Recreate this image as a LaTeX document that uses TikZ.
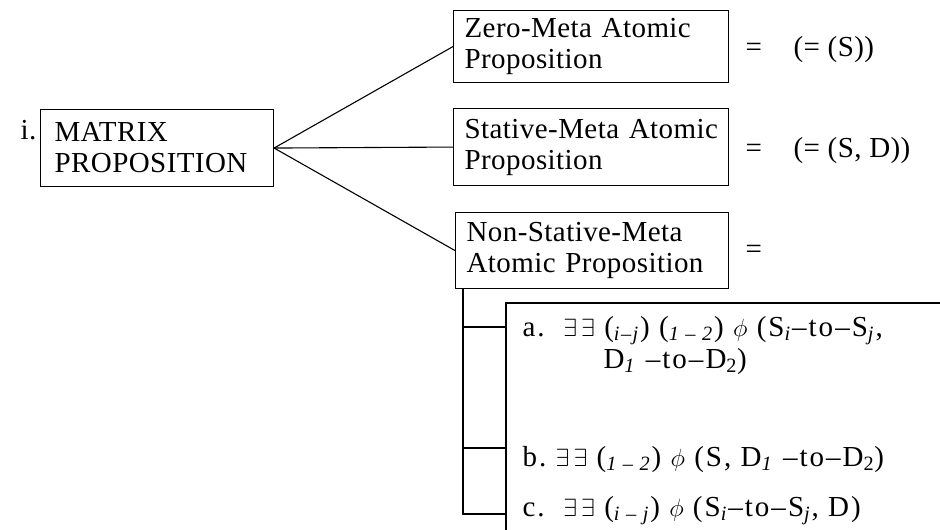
\documentclass[tikz,border=0pt]{standalone}
\usepackage{fontspec}
\setmainfont{Liberation Serif}[LetterSpace=1.5]
\usepackage{tikz}
\newcommand{\sbs}[1]{\textsubscript{\textit{#1}}}

\begin{document}
\begin{tikzpicture}[x=1pt,y=-1pt,line width=1.1pt,
  every node/.style={font=\fontsize{29}{31}\selectfont, inner sep=0pt},
  propbox/.style={draw, align=left, anchor=north west, inner xsep=11pt},
  rel/.style={anchor=base west},
  caseline/.style={anchor=base west, font=\fontsize{29}{31}\selectfont\addfontfeature{LetterSpace=7}}]
\useasboundingbox (0,0) rectangle (940,530);

\node [anchor=base west] (num) at (20,139) {i.};
\node [propbox, inner xsep=14pt, text width=205pt, minimum height=77pt] (matrix) at (40,109) {MATRIX\\PROPOSITION};

\node [propbox, text width=253pt, minimum height=72pt] (zero) at (453,10) {Zero-Meta Atomic\\Proposition};
\node [propbox, text width=253pt, minimum height=77pt] (stative) at (453,108) {Stative-Meta Atomic\\Proposition};
\node [propbox, text width=251pt, minimum height=76pt] (nonstative) at (455,212) {Non-Stative-Meta\\Atomic Proposition};

\draw (matrix.east) -- (zero.west);
\draw (matrix.east) -- (stative.west);
\draw (matrix.east) -- (nonstative.west);

% right hand sides
\node [rel] (eqzero) at (745,56) {=};
\node [rel] (rhszero) at (793,56) {(= (S))};
\node [rel] (eqstat) at (745,157) {=};
\node [rel] (rhsstat) at (793,157) {(= (S, D))};
\node [rel] (eqnon) at (745,258) {=};

% open box for the non-stative cases
\coordinate (boxtr) at (940,303);
\coordinate (boxtl) at (506,303);
\coordinate (boxbl) at (506,530);
\draw (boxtr) -- (boxtl) -- (boxbl);

\node [caseline] (itema) at (522,336) {a.\ \ $\exists\,\exists$ (\sbs{i–j}) (\sbs{1 – 2}) $\phi$ (S\sbs{i}–to–S\sbs{j},};
\node [caseline] (itema2) at (603,368) {D\sbs{1} –to–D\textsubscript{2})};
\node [caseline] (itemb) at (522,466) {b.\ $\exists\,\exists$ (\sbs{1 – 2}) $\phi$ (S, D\sbs{1} –to–D\textsubscript{2})};
\node [caseline] (itemc) at (522,516) {c.\ \ $\exists\,\exists$ (\sbs{i – j}) $\phi$ (S\sbs{i}–to–S\sbs{j}, D)};

% tree lines
\coordinate (trunktop) at (463,288);
\coordinate (edgea) at (506,327);
\coordinate (edgeb) at (506,448);
\coordinate (edgec) at (506,514);
\draw (trunktop) |- (edgec);
\draw (trunktop |- edgea) -- (edgea);
\draw (trunktop |- edgeb) -- (edgeb);
\end{tikzpicture}
\end{document}
